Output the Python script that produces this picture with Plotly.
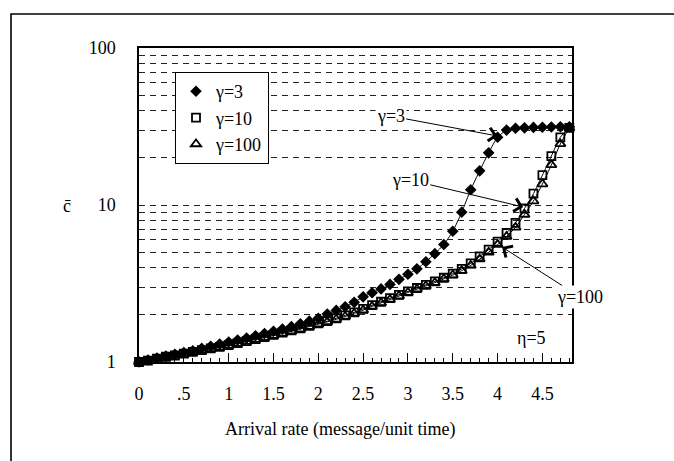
import math
import plotly.graph_objects as go

# ---------------- data ----------------
arrival_rate = [0.0, 0.1, 0.2, 0.3, 0.4, 0.5, 0.6, 0.7, 0.8, 0.9,
                1.0, 1.1, 1.2, 1.3, 1.4, 1.5, 1.6, 1.7, 1.8, 1.9,
                2.0, 2.1, 2.2, 2.3, 2.4, 2.5, 2.6, 2.7, 2.8, 2.9,
                3.0, 3.1, 3.2, 3.3, 3.4, 3.5, 3.6, 3.7, 3.8, 3.9,
                4.0, 4.1, 4.2, 4.3, 4.4, 4.5, 4.6, 4.7, 4.8]

c_gamma3 = [1.00, 1.03, 1.06, 1.09, 1.12, 1.15, 1.18, 1.22, 1.26, 1.30,
            1.34, 1.38, 1.42, 1.47, 1.52, 1.57, 1.62, 1.68, 1.75, 1.82,
            1.90, 2.02, 2.13, 2.25, 2.40, 2.60, 2.76, 2.92, 3.12, 3.36,
            3.62, 3.92, 4.35, 4.90, 5.60, 6.80, 9.00, 12.5, 16.5, 21.5,
            27.0, 30.0, 30.8, 31.0, 31.2, 31.3, 31.4, 31.5, 31.5]

c_gamma10 = [1.00, 1.02, 1.05, 1.08, 1.10, 1.13, 1.16, 1.19, 1.22, 1.25,
             1.28, 1.32, 1.36, 1.40, 1.44, 1.49, 1.54, 1.59, 1.64, 1.70,
             1.76, 1.82, 1.90, 1.98, 2.07, 2.18, 2.30, 2.42, 2.55, 2.68,
             2.82, 2.96, 3.10, 3.26, 3.44, 3.66, 3.92, 4.25, 4.70, 5.20,
             5.85, 6.65, 7.70, 9.50, 11.8, 15.5, 20.5, 27.0, 31.0]

c_gamma100 = [1.00, 1.02, 1.05, 1.07, 1.10, 1.12, 1.15, 1.18, 1.21, 1.24,
              1.27, 1.31, 1.35, 1.39, 1.43, 1.47, 1.52, 1.57, 1.62, 1.68,
              1.74, 1.80, 1.87, 1.95, 2.04, 2.14, 2.26, 2.38, 2.50, 2.63,
              2.77, 2.91, 3.05, 3.20, 3.38, 3.58, 3.82, 4.12, 4.52, 5.00,
              5.60, 6.30, 7.20, 8.70, 10.6, 13.6, 18.0, 24.5, 31.0]

series_names = ["γ=3", "γ=10", "γ=100"]

x_tick_vals = [0, 0.5, 1, 1.5, 2, 2.5, 3, 3.5, 4, 4.5]
x_tick_text = ["0", ".5", "1", "1.5", "2", "2.5", "3", "3.5", "4", "4.5"]
y_grid_vals = [1, 2, 3, 4, 5, 6, 7, 8, 9, 10, 20, 30, 40, 50, 60, 70, 80, 90, 100]
y_label_vals = [1, 10, 100]

# ---------------- layout constants ----------------
W, H = 674, 461
ML, MR, MT, MB = 139, 102, 48, 99
PW, PH = W - ML - MR, H - MT - MB
FONT = "Liberation Serif"
FS = 18

def px_to_paper_x(px):
    return (px - ML) / PW

def px_to_paper_y(py):
    return (H - MB - py) / PH

fig = go.Figure()

series = [c_gamma3, c_gamma10, c_gamma100]
symbols = ["diamond", "square-open", "triangle-up-open"]
sizes = [7, 8, 9]
for name, vals, sym, sz in zip(series_names, series, symbols, sizes):
    fig.add_trace(go.Scatter(
        x=arrival_rate, y=vals, mode="lines",
        line=dict(color="black", width=1, shape="spline", smoothing=0.6),
        showlegend=False, hoverinfo="skip"))
    fig.add_trace(go.Scatter(
        x=arrival_rate, y=vals, mode="markers", name=name, legendgroup=name,
        marker=dict(symbol=sym, size=sz, color="black",
                    line=dict(color="black", width=1.8)),
        cliponaxis=False))

ticktext_y = [str(v) if v in y_label_vals else "" for v in y_grid_vals]

fig.update_layout(
    width=W, height=H,
    margin=dict(l=ML, r=MR, t=MT, b=MB, pad=0),
    paper_bgcolor="white", plot_bgcolor="white",
    font=dict(family=FONT, size=FS, color="black"),
    showlegend=True,
    legend=dict(x=px_to_paper_x(175), y=px_to_paper_y(72),
                xanchor="left", yanchor="top",
                bgcolor="white", bordercolor="black", borderwidth=1,
                font=dict(family=FONT, size=FS, color="black"),
                tracegroupgap=0, itemwidth=30),
    xaxis=dict(range=[0, 4.83], showgrid=False, zeroline=False,
               showline=True, linecolor="black", linewidth=1.5, mirror=True,
               tickvals=x_tick_vals, ticktext=x_tick_text,
               ticks="inside", ticklen=9, tickcolor="black", tickwidth=1,
               ticklabelstandoff=15,
               minor=dict(dtick=0.1, ticks="inside", ticklen=4,
                          tickcolor="black", tickwidth=1, showgrid=False),
               tickfont=dict(family=FONT, size=FS)),
    yaxis=dict(type="log", range=[0, 2], showgrid=True,
               gridcolor="#222222", gridwidth=1.2, griddash="6px,5px",
               zeroline=False, showline=True, linecolor="black",
               linewidth=1.5, mirror=True,
               tickvals=y_grid_vals, ticktext=ticktext_y, ticks="",
               ticklabelstandoff=18,
               tickfont=dict(family=FONT, size=FS)),
)

L = math.log10  # annotation positions on a log axis are given in log units
arrow_style = dict(showarrow=True, arrowhead=4, arrowsize=2.6, arrowwidth=1,
                   arrowcolor="black", bgcolor="white", xref="x", yref="y",
                   font=dict(family=FONT, size=FS, color="black"))
annotations = [
    dict(text="Arrival rate (message/unit time)", xref="paper", yref="paper",
         x=px_to_paper_x(340), y=px_to_paper_y(429), showarrow=False,
         xanchor="center", yanchor="middle", font=dict(size=FS)),
    dict(text="c\u0304", xref="paper", yref="paper",
         x=px_to_paper_x(67), y=px_to_paper_y(206), showarrow=False,
         xanchor="center", yanchor="middle", font=dict(size=FS)),
    dict(text="γ=3", x=4.0, y=L(27.5), ax=-107, ay=-20, **arrow_style),
    dict(text="γ=10", x=4.286, y=L(9.71), ax=-113, ay=-27, **arrow_style),
    dict(text="γ=100", x=4.05, y=L(5.40), ax=78, ay=50, **arrow_style),
    dict(text="η=5", x=4.375, y=L(1.42), xref="x", yref="y",
         showarrow=False, font=dict(size=FS)),
]
fig.update_layout(annotations=annotations)

# outer frame (cut off at the right and bottom of the picture)
fig.add_shape(type="rect", xref="paper", yref="paper",
              x0=px_to_paper_x(11), x1=px_to_paper_x(W + 10),
              y0=px_to_paper_y(H + 10), y1=px_to_paper_y(14),
              line=dict(color="black", width=1.6), layer="below")

fig.write_html("out.html")
